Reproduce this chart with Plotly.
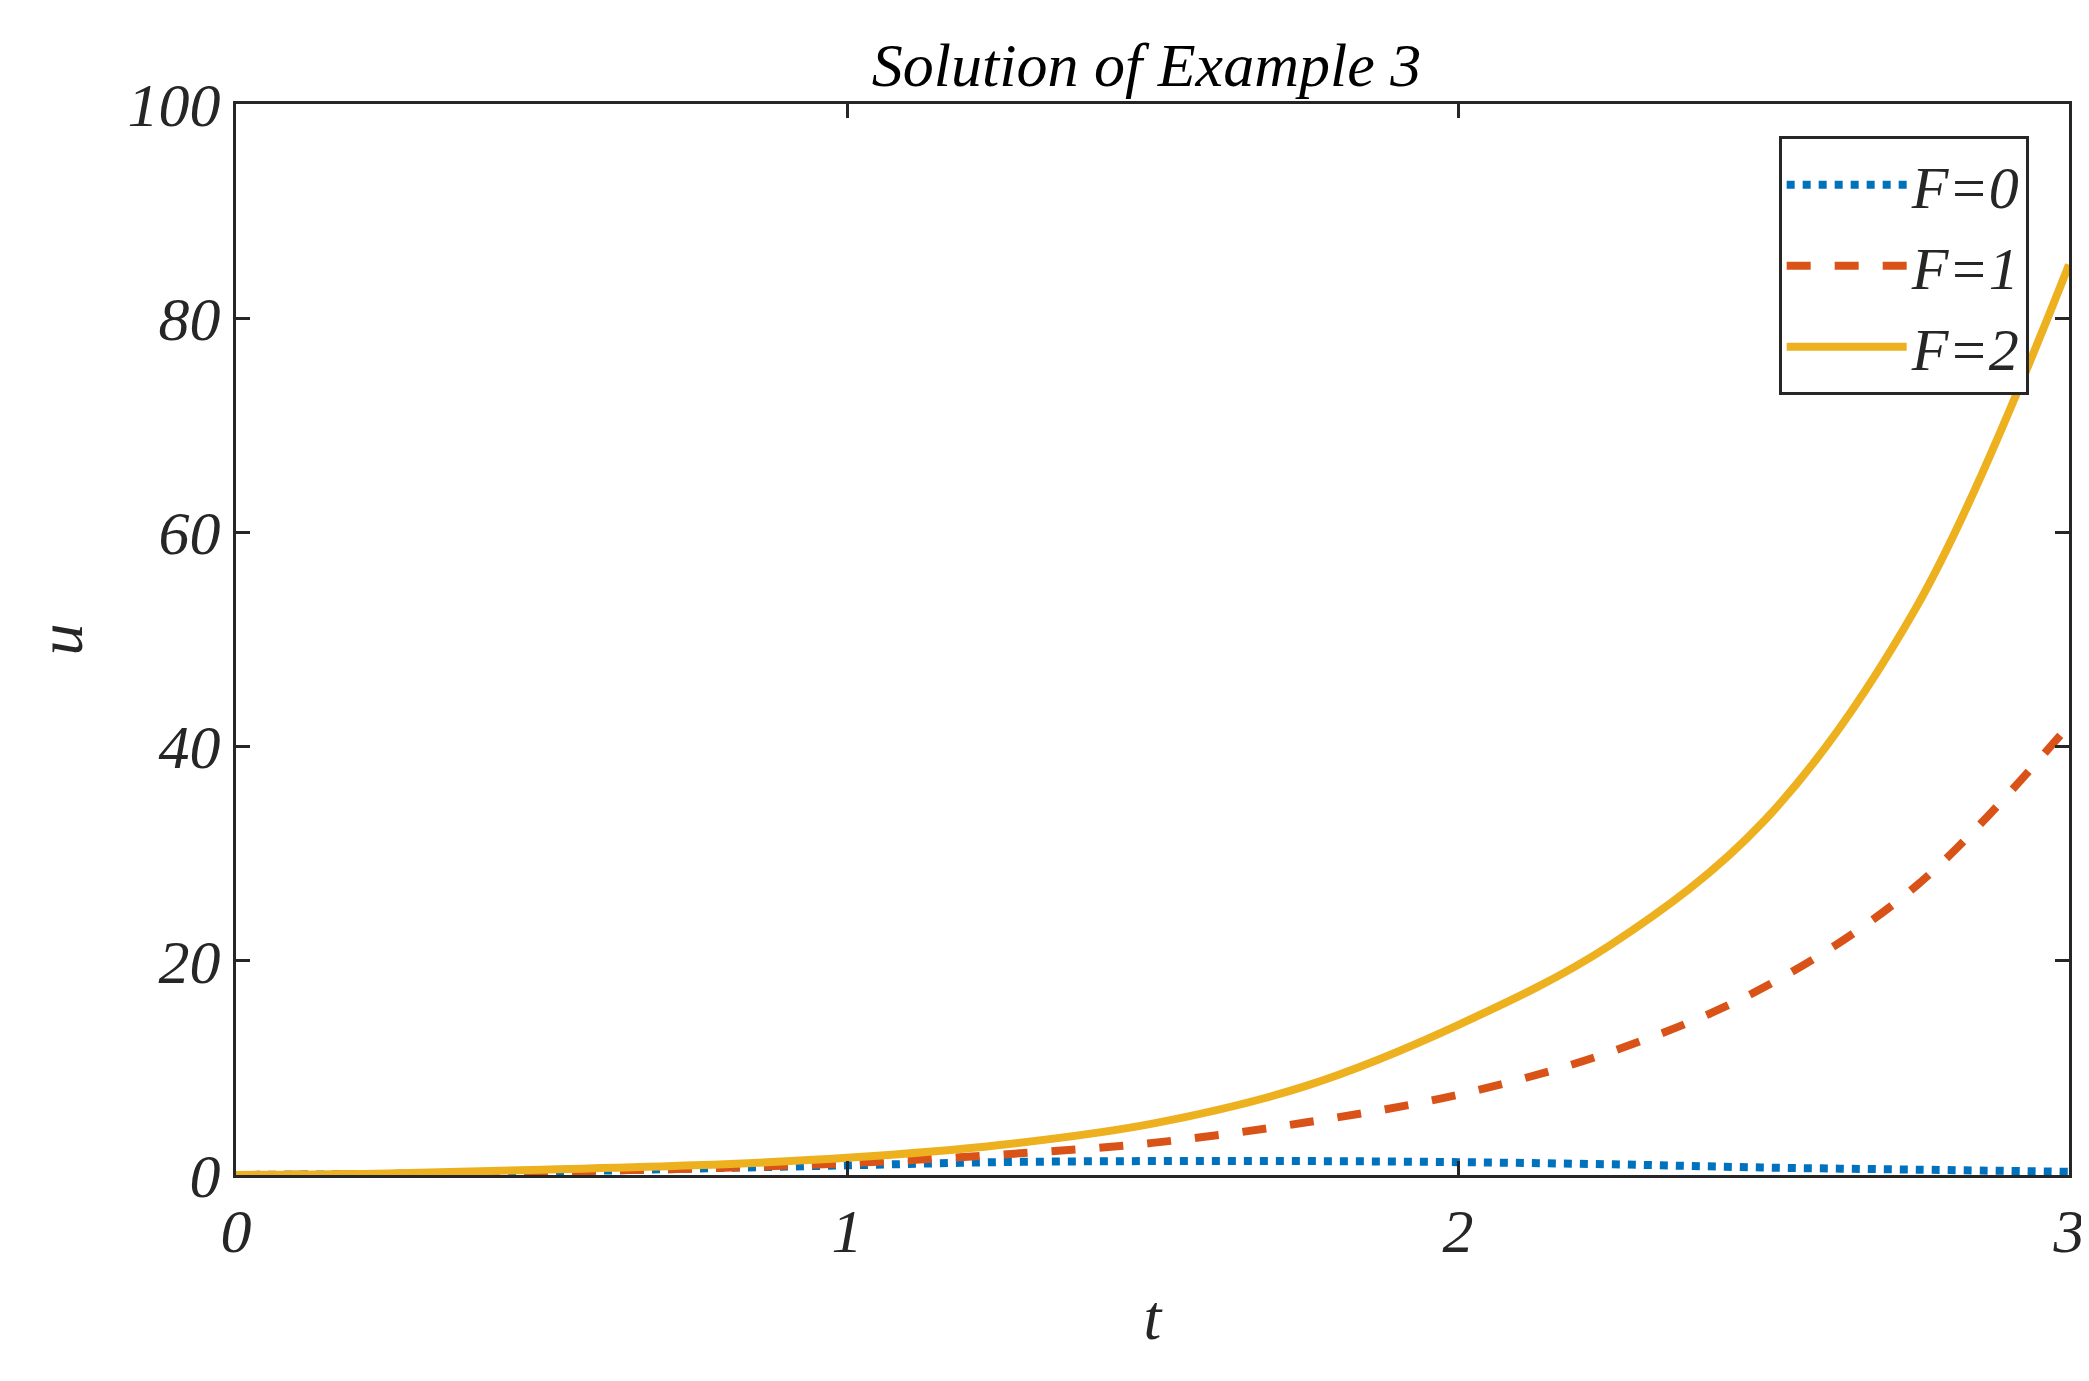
import plotly.graph_objects as go

t = [0, 0.25, 0.5, 0.75, 1, 1.25, 1.5, 1.75, 2, 2.25, 2.5, 2.75, 3]
u_f0 = [0, 0.1, 0.3, 0.6, 0.9, 1.2, 1.3, 1.3, 1.2, 1.0, 0.7, 0.5, 0.3]
u_f1 = [0, 0.1, 0.3, 0.6, 1.1, 1.9, 3.0, 4.9, 7.5, 11.5, 17.5, 27, 42]
u_f2 = [0, 0.15, 0.5, 0.9, 1.6, 2.8, 4.8, 8.3, 14, 21.5, 33, 53, 85]

C = "#262626"
fig = go.Figure()
fig.add_trace(go.Scatter(x=t, y=u_f0, name="<i>F=0</i>", mode="lines",
                         line=dict(color="#0072BD", width=8, dash="dot", shape="spline")))
fig.add_trace(go.Scatter(x=t, y=u_f1, name="<i>F=1</i>", mode="lines",
                         line=dict(color="#D95319", width=8, dash="dash", shape="spline")))
fig.add_trace(go.Scatter(x=t, y=u_f2, name="<i>F=2</i>", mode="lines",
                         line=dict(color="#EDB120", width=8, shape="spline")))
ax = dict(showline=True, mirror="ticks", linecolor=C, linewidth=3,
          ticks="inside", ticklen=14, tickwidth=3, tickcolor=C,
          showgrid=False, zeroline=False, tickfont=dict(family="Liberation Serif", size=62, color=C))
fig.update_xaxes(range=[0, 3], tickvals=[0, 1, 2, 3], ticktext=["<i>0</i>", "<i>1</i>", "<i>2</i>", "<i>3</i>"],
                 title=dict(text="<i>t</i>", standoff=30, font=dict(family="Liberation Serif", size=64, color=C)), **ax)
fig.update_yaxes(range=[0, 100], tickvals=[0, 20, 40, 60, 80, 100],
                 ticktext=["<i>%d</i>" % v for v in [0, 20, 40, 60, 80, 100]],
                 title=dict(text="<i>u</i>", standoff=25, font=dict(family="Liberation Serif", size=64, color=C)), **ax)
fig.update_layout(
    width=2089, height=1381, plot_bgcolor="white", paper_bgcolor="white",
    margin=dict(l=228, r=28, t=96, b=214),
    title=dict(text="<i>Solution of Example 3</i>", x=0.545, xanchor="center", y=0.975,
               font=dict(family="Liberation Serif", size=62, color="black")),
    legend=dict(x=0.978, y=0.97, xanchor="right", yanchor="top", bordercolor=C, itemwidth=120,
                borderwidth=3, bgcolor="white", font=dict(family="Liberation Serif", size=60, color=C)),
    showlegend=True,
)
fig.write_html("out.html")
